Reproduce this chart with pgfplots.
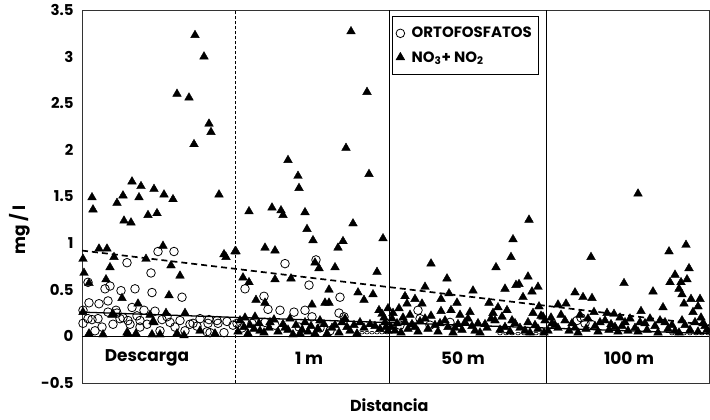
\documentclass[border=0pt]{standalone}
\usepackage{fontspec}
\setmainfont{Poppins}
\usepackage{pgfplots}
\pgfplotsset{compat=1.18}

% ortofosfatos (open circles)
\newcommand{\orto}{
(76,0.91) (92,0.91) (45,0.79) (69,0.68) (23,0.51) (28,0.54) (39,0.49) (53,0.51)
(70,0.47) (100,0.42) (7,0.36) (17,0.35) (26,0.38) (50,0.31) (1,0.28) (6,0.58)
(34,0.28) (73,0.27) (10,0.18) (16,0.19) (31,0.13) (41,0.20) (48,0.13) (58,0.17)
(65,0.13) (80,0.18) (88,0.15) (98,0.17) (111,0.14) (126,0.14) (135,0.17) (142,0.04)
(125,0.05) (1,0.14) (26,0.26) (35,0.25) (20,0.10) (38,0.19) (46,0.17) (115,0.11)
(128,0.04) (151,0.12) (136,0.14) (127,0.18) (108,0.13) (6,0.19) (58,0.10) (78,0.06)
(103,0.06) (13,0.06) (55,0.22) (62,0.28) (85,0.21) (93,0.10) (118,0.19) (145,0.16)
(203,0.78) (163,0.51) (227,0.55) (258,0.42) (182,0.43) (186,0.29) (198,0.28) (212,0.26)
(223,0.28) (230,0.21) (257,0.25) (262,0.21) (160,0.09) (155,0.14) (183,0.15) (193,0.12)
(217,0.10) (234,0.82) (170,0.14) (238,0.09) (248,0.06)
(336,0.28) (338,0.19) (348,0.12) (368,0.15) (318,0.12)
(499,0.20) (503,0.14) (509,0.13) (495,0.17)
}
% ortofosfatos, small flattened readings close to zero
\newcommand{\ortolow}{
(280,0.04) (285,0.04) (290,0.04) (295,0.04) (300,0.04) (305,0.04)
(418,0.03) (424,0.03) (430,0.03) (436,0.03) (442,0.03) (448,0.03) (454,0.03) (460,0.03)
(590,0.03) (596,0.03) (602,0.03) (608,0.03) (614,0.03) (620,0.03) (626,0.03)
}
% nitratos + nitritos (filled triangles)
\newcommand{\nitro}{
(113,3.23) (122,3.00) (95,2.60) (107,2.56) (127,2.28) (129,2.19) (112,2.06)
(50,1.66) (59,1.61) (72,1.58) (82,1.52) (91,1.47) (10,1.49) (11,1.36) (41,1.51)
(35,1.43) (57,1.49) (42,1.24) (49,1.22) (66,1.30) (75,1.32) (137,1.52)
(17,0.94) (25,0.94) (81,0.97) (1,0.83) (32,0.85) (28,0.74) (64,0.83) (89,0.76)
(98,0.65) (2,0.68) (7,0.57) (24,0.61) (40,0.41) (87,0.44) (56,0.35) (144,0.85)
(142,0.88) (153,0.91)
(7,0.03) (21,0.02) (46,0.03) (54,0.03) (70,0.02) (78,0.02) (95,0.03) (102,0.01)
(30,0.23) (72,0.15) (84,0.25) (103,0.25) (1,0.26) (68,0.23) (45,0.04) (71,0.16)
(31,0.24) (118,0.06) (133,0.03)
(269,3.27) (285,2.62) (264,2.02) (206,1.89) (216,1.72) (217,1.59) (287,1.74)
(167,1.34) (190,1.38) (199,1.35) (201,1.30) (223,1.33) (271,1.21) (225,1.15)
(231,1.03) (261,1.02) (256,0.95) (301,1.05) (154,0.91) (183,0.95) (193,0.92)
(233,0.79) (237,0.73) (253,0.74) (295,0.69) (161,0.63) (167,0.58) (193,0.61)
(209,0.62) (247,0.50) (276,0.47) (291,0.45) (282,0.39) (243,0.36) (247,0.36)
(174,0.39) (183,0.36) (230,0.34) (297,0.28) (302,0.20) (163,0.20)
(158,0.17) (168,0.12) (178,0.06) (188,0.15) (203,0.09) (218,0.03) (233,0.03)
(238,0.17) (253,0.12) (268,0.06) (278,0.15) (293,0.11) (303,0.15) (306,0.06)
(173,0.21) (208,0.19) (223,0.15) (263,0.19)
(156,0.05) (162,0.10) (166,0.03) (172,0.08) (177,0.14) (182,0.04) (187,0.09)
(192,0.18) (196,0.05) (201,0.13) (206,0.07) (211,0.02) (214,0.12) (220,0.07)
(226,0.05) (229,0.11) (236,0.08) (242,0.13) (245,0.03) (250,0.09) (257,0.04)
(260,0.15) (265,0.10) (272,0.12) (275,0.03) (282,0.09) (288,0.13) (298,0.08)
(300,0.24) (304,0.10) (306,0.30)
(447,1.25) (431,1.04) (429,0.85) (349,0.78) (414,0.74) (365,0.62) (446,0.64)
(343,0.53) (391,0.49) (367,0.46) (423,0.51) (434,0.55) (437,0.56) (450,0.48)
(456,0.53) (323,0.43) (441,0.42) (333,0.40) (359,0.40) (407,0.36) (375,0.36)
(340,0.35) (325,0.35) (317,0.30) (416,0.31) (425,0.28) (411,0.25) (457,0.32)
(451,0.25) (369,0.28) (359,0.27) (461,0.21)
(310,0.19) (313,0.06) (323,0.15) (333,0.10) (343,0.19) (353,0.12) (363,0.17)
(373,0.09) (383,0.15) (393,0.06) (403,0.13) (413,0.17) (423,0.10) (433,0.14)
(443,0.06) (453,0.12) (463,0.17) (328,0.23) (378,0.23) (388,0.26)
(309,0.10) (311,0.25) (315,0.14) (319,0.04) (321,0.20) (326,0.08) (330,0.13)
(336,0.05) (338,0.16) (346,0.08) (349,0.22) (356,0.05) (358,0.14) (366,0.10)
(371,0.04) (376,0.13) (380,0.07) (386,0.19) (390,0.11) (396,0.14) (398,0.04)
(405,0.09) (409,0.19) (418,0.07) (420,0.21) (428,0.05) (430,0.17) (438,0.09)
(446,0.15) (448,0.04) (456,0.08) (459,0.22) (462,0.04)
(556,1.53) (604,0.98) (587,0.91) (509,0.85) (607,0.73) (593,0.66) (605,0.61)
(588,0.58) (542,0.57) (599,0.58) (597,0.51) (493,0.47) (571,0.48) (501,0.42)
(510,0.41) (600,0.45) (609,0.40) (618,0.40) (602,0.35) (581,0.31) (616,0.32)
(611,0.26) (476,0.34) (484,0.35) (559,0.27) (525,0.25) (512,0.26) (532,0.24)
(469,0.20) (619,0.20)
(473,0.12) (483,0.17) (493,0.09) (513,0.11) (523,0.17) (533,0.10) (543,0.15)
(553,0.09) (563,0.14) (573,0.11) (583,0.15) (593,0.06) (603,0.12) (613,0.15)
(623,0.11) (538,0.20) (568,0.19) (498,0.23)
(466,0.06) (470,0.14) (476,0.09) (479,0.23) (487,0.06) (490,0.14) (496,0.04)
(504,0.08) (506,0.19) (516,0.05) (518,0.15) (527,0.07) (529,0.13) (536,0.05)
(540,0.11) (546,0.06) (548,0.19) (556,0.05) (558,0.15) (565,0.07) (576,0.04)
(578,0.17) (586,0.08) (590,0.12) (597,0.04) (600,0.17) (608,0.07) (616,0.05)
(621,0.14) (625,0.07)
}

\begin{document}
\begin{tikzpicture}
\begin{axis}[
  scale only axis,
  width=627bp, height=373bp,
  xmin=0, xmax=627,
  ymin=-0.5, ymax=3.5,
  xtick=\empty,
  ytick={-0.5,0,0.5,1,1.5,2,2.5,3,3.5},
  yticklabels={{-0.5},0,0.5,1,1.5,2,2.5,3,3.5},
  major tick length=0pt,
  yticklabel style={font=\bfseries\fontsize{15}{15}\selectfont, xshift=-5bp},
  axis line style={line width=0.6pt, black!80},
  ylabel={mg / l},
  every axis y label/.style={at={(axis description cs:0,0.41)}, xshift=-62bp,
    rotate=90, anchor=center, font=\bfseries\fontsize{17}{17}\selectfont},
  xlabel={Distancia},
  every axis x label/.style={at={(axis description cs:0.49,0)}, yshift=-22bp,
    anchor=center, font=\bfseries\fontsize{16}{16}\selectfont},
  legend style={at={(axis description cs:0.494,0.984)}, anchor=north west,
    draw=black, line width=0.6pt, font=\bfseries\fontsize{15}{15}\selectfont,
    inner xsep=4bp, inner ysep=9bp, row sep=8bp},
  legend cell align=left,
  clip=false,
]
% section dividers and zero line
\draw[black, line width=0.5pt, densely dashed] (axis cs:153,-0.5) -- (axis cs:153,3.5);
\draw[black, line width=0.6pt] (axis cs:307,-0.5) -- (axis cs:307,3.5);
\draw[black, line width=0.6pt] (axis cs:464,-0.5) -- (axis cs:464,3.5);
\draw[black, line width=0.7pt] (axis cs:0,0) -- (axis cs:627,0);

\addplot[only marks, mark=o, mark size=4.3bp, mark options={line width=0.8pt, black}]
  coordinates {\orto};
\addlegendentry{\hspace{5bp}ORTOFOSFATOS}
\addplot[only marks, mark=triangle*, mark size=5bp, black]
  coordinates {\nitro};
\addlegendentry{\hspace{5bp}NO\textsubscript{3}+ NO\textsubscript{2}}
\addplot[only marks, mark=o, mark size=2.2bp, mark options={line width=0.6pt, black, yscale=0.6}, forget plot]
  coordinates {\ortolow};

% fitted trends
\addplot[black, line width=1.7pt, dash pattern=on 6bp off 4bp, forget plot]
  coordinates {(0,0.92) (627,0.12)};
\addplot[black, line width=1.3pt, forget plot]
  coordinates {(0,0.26) (627,0.03)};

% section names
\begin{scope}[font=\bfseries\fontsize{17}{17}\selectfont]
\node at (axis cs:65,-0.23) {Descarga};
\node at (axis cs:227,-0.23) {1 m};
\node at (axis cs:381,-0.23) {50 m};
\node at (axis cs:547,-0.23) {100 m};
\end{scope}
\end{axis}
\pgfresetboundingbox
\path ([xshift=-82bp,yshift=-37bp]current axis.south west)
  rectangle ([xshift=1bp,yshift=10bp]current axis.north east);
\end{tikzpicture}
\end{document}
